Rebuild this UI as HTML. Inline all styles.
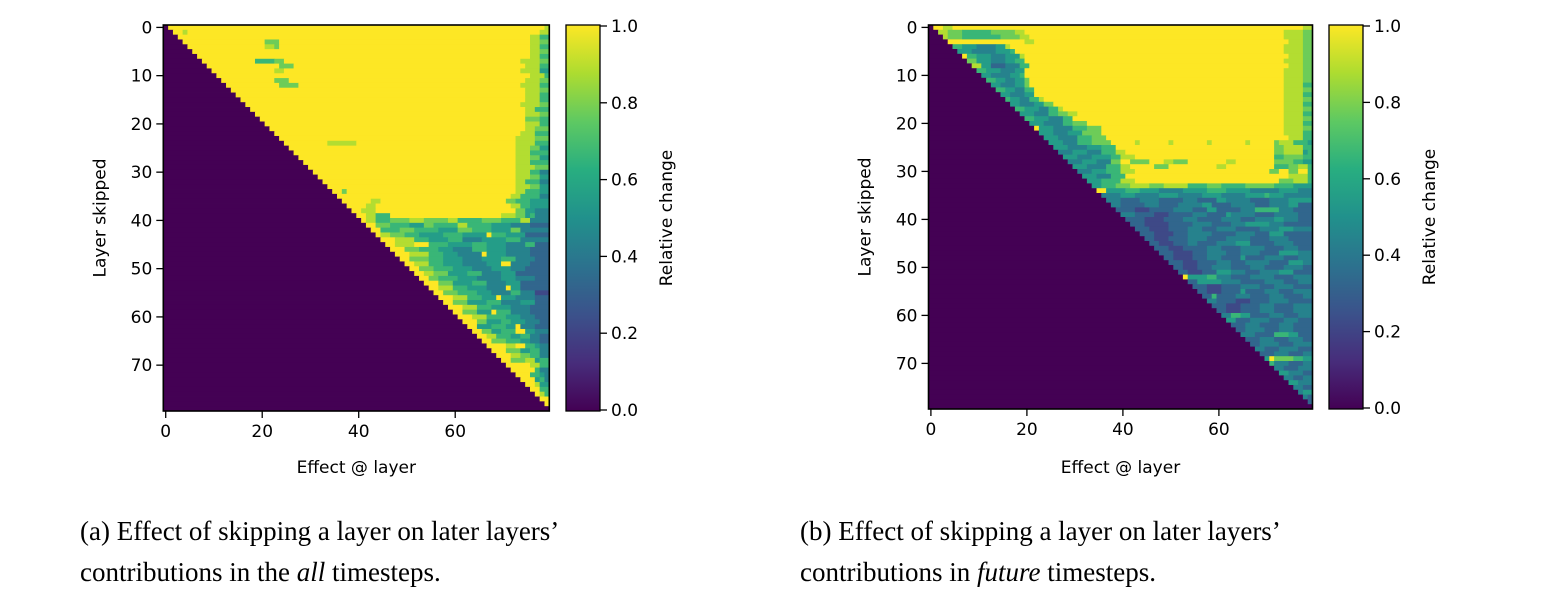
<!DOCTYPE html>
<html><head><meta charset="utf-8">
<style>
html,body{margin:0;padding:0;background:#fff;width:1542px;height:602px;overflow:hidden}
svg text{font-family:"DejaVu Sans","Liberation Sans",sans-serif}
.cap{position:absolute;font-family:"Liberation Serif",serif;font-size:27px;line-height:41px;color:#000;white-space:nowrap}
</style></head><body>
<svg id="chart" width="1542" height="602" xmlns="http://www.w3.org/2000/svg" style="position:absolute;left:0;top:0">
<defs>
<linearGradient id="vir" x1="0" y1="1" x2="0" y2="0">
<stop offset="0" stop-color="#440154"/><stop offset="0.125" stop-color="#472d7b"/><stop offset="0.25" stop-color="#3b528b"/><stop offset="0.375" stop-color="#2c728e"/><stop offset="0.5" stop-color="#21918c"/><stop offset="0.625" stop-color="#28ae80"/><stop offset="0.75" stop-color="#5ec962"/><stop offset="0.875" stop-color="#addc30"/><stop offset="1" stop-color="#fde725"/>
</linearGradient>
</defs>
<g id="root"></g>
</svg>
<div class="cap" style="left:80px;top:511px">(a) Effect of skipping a layer on later layers’<br>contributions in the <i>all</i> timesteps.</div>
<div class="cap" style="left:800px;top:511px">(b) Effect of skipping a layer on later layers’<br>contributions in <i>future</i> timesteps.</div>
<script>
// Heatmap data: run-length rows "level*count", level 0-9 => value level/9
const xTicks=[0,20,40,60];
const yTicks=[0,10,20,30,40,50,60,70];
const cbTicks=[0.0,0.2,0.4,0.6,0.8,1.0];
const rowsA=[
"0*1 9*78 8*1","0*2 9*2 8*1 9*73 8*2","0*3 9*73 8*2 6*2","0*4 9*17 7*3 9*52 8*2 7*2","0*5 9*16 8*2 7*1 9*52 8*2 6*2",
"0*6 9*70 8*2 7*2","0*7 9*69 8*2 6*2","0*8 9*11 6*4 7*2 9*49 8*4 7*2","0*9 9*15 7*3 9*48 8*3 6*2","0*10 9*13 8*2 9*49 8*4 5*2",
"0*11 9*65 8*3 6*1","0*12 9*11 7*3 9*49 8*3 7*2","0*13 9*11 7*4 9*46 8*4 6*2","0*14 9*61 8*3 7*2","0*15 9*60 8*3 6*2",
"0*16 9*59 8*3 6*2","0*17 9*57 8*4 7*2","0*18 9*57 8*2 6*3","0*19 9*56 8*3 7*2","0*20 9*55 7*3 6*2",
"0*21 9*54 8*3 6*2","0*22 9*53 8*2 7*3","0*23 9*51 8*3 6*3","0*24 9*49 8*4 7*3","0*25 9*9 8*6 9*33 8*4 6*3",
"0*26 9*47 8*3 7*2 5*2","0*27 9*46 8*3 6*4","0*28 9*45 8*3 7*2 5*2","0*29 9*44 8*3 6*4","0*30 9*43 8*4 7*3",
"0*31 9*42 8*3 6*2 4*2","0*32 9*41 8*3 7*2 5*2","0*33 9*40 8*2 6*3 4*2","0*34 9*39 8*3 7*2 5*2","0*35 9*2 7*1 9*35 8*2 6*3 5*2",
"0*36 9*36 8*2 6*4 4*2","0*37 9*6 8*2 9*26 7*2 6*3 5*4","0*38 9*4 8*2 9*28 8*2 6*2 5*4","0*39 9*2 8*3 9*29 7*2 5*2 4*3","0*40 9*2 8*2 6*3 9*23 8*3 7*2 5*1 6*1 4*3",
"0*41 9*1 8*2 6*3 7*4 8*3 7*5 8*2 6*5 7*4 6*4 8*2 4*4","0*42 9*2 7*3 6*4 5*3 7*2 6*5 8*2 6*5 5*4 4*4 3*4","0*43 9*2 6*4 7*3 6*5 5*4 7*3 6*4 5*4 7*2 4*6","0*44 9*1 8*2 7*3 6*3 5*5 6*4 5*5 9*1 6*3 5*4 3*5","0*45 9*3 8*4 6*3 5*4 6*3 4*4 5*5 6*3 4*6",
"0*46 9*2 8*4 9*3 6*4 5*5 6*3 5*4 4*4 6*2 3*3","0*47 9*3 7*3 6*4 5*3 4*4 6*3 5*4 4*5 3*4","0*48 9*3 8*4 6*3 5*3 4*5 9*1 5*4 4*5 3*4","0*49 9*2 7*4 6*3 5*4 4*4 5*4 6*3 4*4 3*3","0*50 9*2 8*3 6*3 5*4 4*5 5*3 9*2 4*4 3*4",
"0*51 9*2 7*3 6*4 5*4 4*4 5*4 4*3 3*5","0*52 9*2 8*2 7*3 5*4 6*3 4*4 5*3 3*7","0*53 9*2 7*2 6*4 5*4 4*5 5*3 4*4 3*3","0*54 9*3 7*3 5*4 6*3 4*4 5*3 3*6","0*55 9*2 8*3 6*3 5*4 4*4 9*1 5*2 3*6",
"0*56 9*2 7*3 6*4 5*3 4*4 6*2 4*3 2*3","0*57 9*3 8*3 6*3 5*3 9*1 5*3 4*4 3*3","0*58 9*2 7*3 5*4 6*3 4*4 5*3 3*3","0*59 9*3 8*3 6*3 5*4 4*4 3*4","0*60 9*2 7*3 5*3 9*1 6*3 4*4 3*4",
"0*61 9*3 8*3 6*4 5*3 4*3 3*3","0*62 9*3 7*2 5*3 6*2 5*3 4*3 3*2","0*63 9*2 5*3 6*3 5*2 9*1 4*3 3*3","0*64 9*2 7*2 5*2 6*3 9*2 5*2 4*3","0*65 9*2 8*2 6*3 5*2 6*2 4*2 3*2",
"0*66 9*2 7*3 6*3 5*2 4*2 3*2","0*67 9*4 8*2 9*2 6*2 5*1 4*2","0*68 9*3 7*3 5*2 6*2 4*2","0*69 9*3 8*2 7*2 6*2 4*2","0*70 9*2 7*3 8*2 5*1 6*2",
"0*71 9*5 8*2 6*2","0*72 9*5 6*1 4*2","0*73 9*3 6*2 5*1 4*1","0*74 9*3 5*1 6*1 4*1","0*75 9*2 8*1 5*2",
"0*76 9*2 6*2","0*77 9*1 8*1 6*1","0*78 9*2","0*79 9*1","0*80"
];
const rowsB=[
"0*1 9*2 8*2 9*73 8*2","0*2 8*2 7*3 6*6 7*5 8*2 9*54 8*4 7*2","0*3 8*1 7*3 6*8 7*4 8*2 9*53 8*4 7*2","0*4 9*16 8*2 9*53 8*3 7*2","0*5 6*2 5*3 4*4 5*2 8*1 9*57 8*4 7*2",
"0*6 5*3 4*5 5*3 6*1 9*56 8*4 7*2","0*7 9*1 6*2 5*3 4*3 5*3 8*1 9*55 8*3 7*2","0*8 7*2 5*3 4*3 5*2 6*2 9*54 8*4 7*2","0*9 8*2 5*2 3*3 4*3 6*2 9*54 8*3 7*2","0*10 6*2 5*3 4*3 5*2 9*54 8*4 7*2",
"0*11 5*2 4*4 5*2 6*1 9*54 8*4 7*2","0*12 6*2 5*2 4*2 5*2 7*1 9*53 8*4 7*2","0*13 5*2 4*3 5*2 7*1 9*53 8*4 6*2","0*14 6*2 5*2 4*2 6*2 9*52 8*4 7*2","0*15 5*2 4*3 5*2 9*52 8*4 6*2",
"0*16 6*1 5*2 4*2 6*2 8*1 9*50 8*4 7*2","0*17 5*2 4*3 5*2 7*2 9*48 8*4 6*2","0*18 6*2 5*3 4*2 6*2 8*1 9*46 8*4 7*2","0*19 5*3 4*3 6*2 7*2 8*2 9*43 8*4 6*2","0*20 6*2 5*3 4*3 6*2 9*44 8*4 7*2",
"0*21 5*3 4*4 6*2 7*3 9*41 8*4 6*2","0*22 9*1 5*3 4*4 6*3 7*3 9*38 8*4 7*2","0*23 5*3 4*3 5*3 7*4 9*38 8*4 6*2","0*24 5*3 4*4 6*3 7*3 9*38 8*3 6*2","0*25 5*3 4*3 6*3 7*4 9*5 8*1 9*6 8*1 9*7 8*1 9*7 8*1 9*5 7*1 8*3 6*3 5*1",
"0*26 5*3 4*4 5*3 6*3 9*33 7*2 8*4 6*2","0*27 4*3 5*3 4*3 6*3 8*2 9*31 7*2 8*4 5*1 6*1","0*28 5*3 4*3 5*4 6*2 8*3 9*29 6*2 7*4 6*2","0*29 4*3 5*3 4*3 7*2 9*2 7*4 9*3 8*2 7*3 9*8 8*2 9*8 7*4 6*2 5*2","0*30 5*3 4*4 6*3 8*2 9*5 7*3 9*10 8*2 9*10 6*3 7*2 8*2 6*1",
"0*31 4*3 5*3 6*3 8*3 9*28 7*2 9*2 7*2 9*2 6*1","0*32 5*3 4*3 6*3 9*34 8*4 6*1","0*33 5*3 6*4 8*3 9*30 7*3 8*3 6*1","0*34 5*2 6*3 7*3 8*4 7*3 8*5 6*4 7*3 6*5 7*6 6*4 5*4","0*35 9*2 5*4 6*3 5*4 4*5 5*5 6*4 5*5 4*6 5*4 4*3",
"0*36 4*4 5*3 4*5 5*4 4*5 5*4 4*5 5*4 6*1 5*3 4*6","0*37 4*3 3*4 4*4 3*5 4*3 3*4 5*2 4*5 3*4 4*4 5*5","0*38 4*2 3*5 4*3 3*4 4*5 5*2 3*4 4*5 3*3 4*4 5*2 3*3","0*39 3*4 2*3 3*5 4*4 3*3 5*2 3*5 4*3 6*5 4*3 3*4","0*40 4*3 3*4 2*3 3*5 4*3 3*4 5*1 4*5 3*4 4*5 3*3",
"0*41 3*4 2*4 3*4 4*3 3*5 4*4 3*3 4*4 5*2 4*3 3*3","0*42 3*3 2*5 3*5 4*4 3*4 4*3 5*5 4*3 3*6","0*43 3*3 2*4 3*4 4*3 3*3 4*4 3*5 4*4 5*3 4*4","0*44 3*3 2*4 3*3 4*5 3*5 4*4 3*3 5*3 3*6","0*45 3*2 2*3 3*4 4*4 3*4 4*5 3*4 4*4 3*5",
"0*46 3*2 2*3 3*3 4*2 3*4 4*4 5*3 3*5 4*4 3*4","0*47 3*3 2*3 3*5 4*3 3*4 4*5 3*4 4*3 3*3","0*48 3*3 2*4 3*3 4*4 3*3 4*4 3*4 5*4 4*3","0*49 3*2 2*4 3*3 4*3 3*4 5*1 3*4 4*4 3*3 4*3","0*50 3*3 2*3 3*4 4*3 3*3 4*5 3*4 5*3 4*2",
"0*51 3*2 2*3 3*3 4*4 3*4 4*3 3*4 4*4 3*2","0*52 3*2 2*3 3*3 5*3 4*3 3*3 4*4 5*3 3*4","0*53 9*1 5*4 6*2 4*3 3*4 4*5 3*4 4*4","0*54 3*2 5*5 4*4 3*5 4*4 3*3 4*3","0*55 3*3 2*3 3*4 4*4 3*3 4*4 3*4",
"0*56 3*2 2*3 3*4 5*1 3*4 4*3 3*3 4*4","0*57 3*2 6*1 3*4 4*3 3*4 4*3 3*4 4*2","0*58 4*2 3*4 2*3 3*4 4*4 3*5","0*59 3*3 2*3 3*4 4*3 3*4 4*4","0*60 3*2 2*3 3*4 4*3 3*4 4*4",
"0*61 4*2 6*2 5*2 3*4 4*3 3*3 4*3","0*62 5*2 3*3 4*4 3*3 4*3 3*3","0*63 3*3 4*3 3*4 4*3 3*4","0*64 3*2 4*4 3*3 4*3 3*4","0*65 4*3 3*4 6*3 5*2 3*3",
"0*66 3*3 4*3 3*3 4*3 3*2","0*67 3*2 4*4 3*3 4*4","0*68 4*2 3*3 4*4 3*3","0*69 3*3 4*3 3*3 4*2","0*70 5*1 9*1 7*4 6*2 5*2",
"0*71 6*1 4*3 3*3 4*2","0*72 4*2 3*3 4*3","0*73 5*2 4*3 3*2","0*74 4*2 3*2 4*2","0*75 5*2 4*3",
"0*76 4*2 3*2","0*77 4*1 5*2","0*78 4*1 3*1","0*79 3*1","0*80"
];
const VIR=[[68,1,84],[71,44,122],[59,81,139],[44,113,142],[33,144,141],[39,173,129],[92,200,99],[170,220,50],[253,231,37]];
function viridis(v){v=Math.max(0,Math.min(1,v));const p=v*8,i=Math.min(7,Math.floor(p)),t=p-i;const a=VIR[i],b=VIR[i+1];return `rgb(${Math.round(a[0]+(b[0]-a[0])*t)},${Math.round(a[1]+(b[1]-a[1])*t)},${Math.round(a[2]+(b[2]-a[2])*t)})`;}
const NS="http://www.w3.org/2000/svg";
const root=document.getElementById('root');
function el(tag,attrs,parent){const e=document.createElementNS(NS,tag);for(const k in attrs)e.setAttribute(k,attrs[k]);(parent||root).appendChild(e);return e;}
function txt(s,attrs,parent){const e=el('text',attrs,parent);e.textContent=s;return e;}
function panel(rows,P,id){
  const g=el('g',{});
  
  
  const cw=P.w/80,ch=P.h/80;
  const xs=c=>P.x+c*cw, ys=r=>P.y+r*ch;
  rows.forEach((row,r)=>{
    let c=0,last=0;
    const toks=row.split(' ');
    toks.forEach((tok,k)=>{
      let [lv,n]=tok.split('*').map(Number);
      if(k===toks.length-1&&c+n<80)n=80-c;
      if(c+n>80)n=80-c;
      if(n<=0)return;
      const rect=el('rect',{x:xs(c).toFixed(2),y:ys(r).toFixed(2),width:(n*cw+0.4).toFixed(2),height:(ch+0.4).toFixed(2),fill:viridis(lv/9)},g);
      
      
      c+=n;
    });
  });
  const fr=el('rect',{x:P.x,y:P.y,width:P.w,height:P.h,fill:'none',stroke:'#000','stroke-width':1.6});
  
  
  xTicks.forEach(t=>{
    const x=xs(t+0.5);
    el('line',{x1:x,y1:P.y+P.h,x2:x,y2:P.y+P.h+7,stroke:'#000','stroke-width':1.3});
    const l=txt(String(t),{x:x,y:P.y+P.h+26,'font-size':17,'text-anchor':'middle'});
    
    
  });
  yTicks.forEach(t=>{
    const y=ys(t+0.5);
    el('line',{x1:P.x-7,y1:y,x2:P.x,y2:y,stroke:'#000','stroke-width':1.3});
    const l=txt(String(t),{x:P.x-11,y:y+6,'font-size':17,'text-anchor':'end'});
    
    
  });
  const xt=txt('Effect @ layer',{x:P.x+P.w/2,y:473,'font-size':17,'text-anchor':'middle'});
  
  
  const yt=txt('Layer skipped',{x:0,y:0,'font-size':17,'text-anchor':'middle',transform:`translate(${P.x-58},${P.y+P.h/2}) rotate(-90)`});
  
  
  const cb=el('rect',{x:P.cbx,y:P.y,width:34,height:P.h,fill:'url(#vir)',stroke:'#000','stroke-width':1.3});
  
  
  cbTicks.forEach(t=>{
    const y=P.y+P.h-t*(P.h-2)-1;
    el('line',{x1:P.cbx+34,y1:y,x2:P.cbx+41,y2:y,stroke:'#000','stroke-width':1.3});
    const l=txt(t.toFixed(1),{x:P.cbx+45,y:y+6,'font-size':17});
    
    
  });
  const ct=txt('Relative change',{x:0,y:0,'font-size':17,'text-anchor':'middle',transform:`translate(${P.cbx+106},${P.y+P.h/2}) rotate(-90)`});
  
  
}
panel(rowsA,{x:163.3,y:25,w:386,h:386,cbx:566},'a');
panel(rowsB,{x:928.5,y:25,w:384,h:384,cbx:1329},'b');
</script>
</body></html>
